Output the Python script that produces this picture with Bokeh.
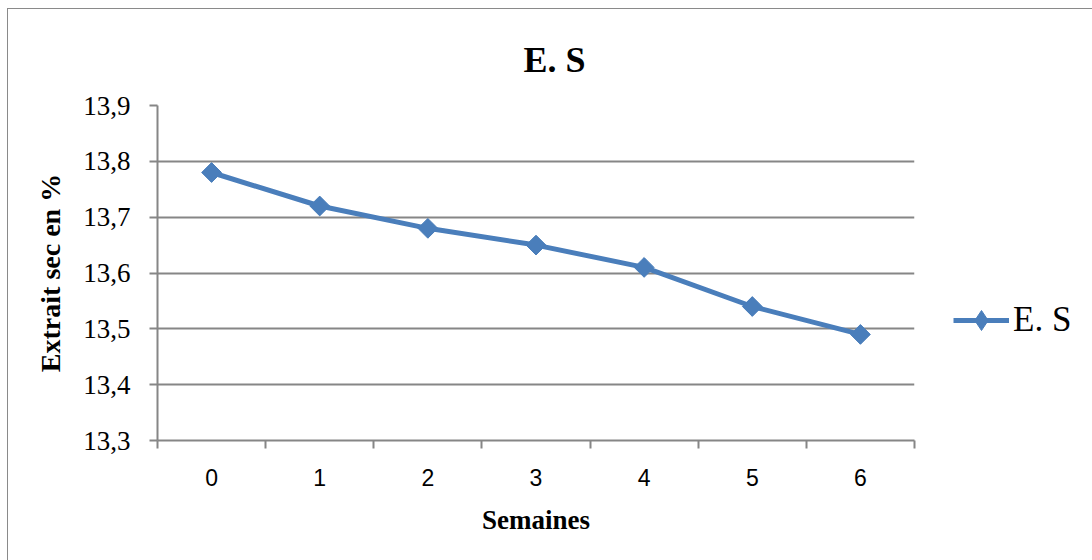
import math
from bokeh.plotting import figure
from bokeh.models import (FixedTicker, CustomJSTickFormatter, Legend, LegendItem,
                          ColumnDataSource, LinearAxis, Grid, Title)
from bokeh.embed import file_html
from bokeh.resources import INLINE

# ---- data ----
semaines = [0, 1, 2, 3, 4, 5, 6]
extrait_sec = [13.78, 13.72, 13.68, 13.65, 13.61, 13.54, 13.49]
y_ticks = [13.3, 13.4, 13.5, 13.6, 13.7, 13.8, 13.9]
x_tick_labels = ["0", "1", "2", "3", "4", "5", "6"]
series_name = "E. S"
title_text = "E. S"
x_title = "Semaines"
y_title = "Extrait sec en %"

BLUE = "#4a7ebb"
GRAY = "#868686"

p = figure(frame_width=757, frame_height=335, output_backend="svg", toolbar_location=None,
           x_range=(-0.5, 6.5), y_range=(13.3, 13.9),
           min_border_left=149, min_border_right=173, min_border_top=96, min_border_bottom=120,
           x_axis_type=None, y_axis_type=None)
p.styles = {"margin-left": "7px", "margin-top": "8px", "border": "1px solid #8a8a8a"}
p.outline_line_color = None
p.background_fill_color = "white"
p.border_fill_color = "white"

p.title = Title(text=title_text, align="left", offset=366, standoff=52,
                text_font="Liberation Serif", text_font_size="36px",
                text_font_style="bold", text_color="black")

# x axis: labels at integer weeks, tick marks between categories
xa = LinearAxis(ticker=FixedTicker(ticks=semaines,
                                   minor_ticks=[s - 0.5 for s in semaines] + [semaines[-1] + 0.5]))
xa.major_label_overrides = {s: lab for s, lab in zip(semaines, x_tick_labels)}
xa.major_tick_out = 0
xa.major_tick_in = 0
xa.minor_tick_out = 8
xa.minor_tick_in = 0
xa.minor_tick_line_color = GRAY
xa.minor_tick_line_width = 2
xa.axis_line_color = GRAY
xa.axis_line_width = 2
xa.major_label_text_font = "Liberation Sans"
xa.major_label_text_font_size = "23px"
xa.major_label_text_color = "black"
xa.major_label_standoff = 20
xa.axis_label = x_title
xa.axis_label_text_font = "Liberation Serif"
xa.axis_label_text_font_size = "27px"
xa.axis_label_text_font_style = "bold"
xa.axis_label_text_color = "black"
xa.axis_label_standoff = 16
p.add_layout(xa, "below")

ya = LinearAxis(ticker=FixedTicker(ticks=y_ticks, minor_ticks=[]))
ya.formatter = CustomJSTickFormatter(code="return tick.toFixed(1).replace('.', ',');")
ya.major_tick_out = 8
ya.major_tick_in = 0
ya.major_tick_line_color = GRAY
ya.major_tick_line_width = 2
ya.axis_line_color = GRAY
ya.axis_line_width = 2
ya.major_label_text_font = "Liberation Serif"
ya.major_label_text_font_size = "27px"
ya.major_label_text_color = "black"
ya.major_label_standoff = 19
ya.axis_label = y_title
ya.axis_label_text_font = "Liberation Serif"
ya.axis_label_text_font_size = "28px"
ya.axis_label_text_font_style = "bold"
ya.axis_label_text_color = "black"
ya.axis_label_standoff = 14
p.add_layout(ya, "left")

p.add_layout(Grid(dimension=1, ticker=ya.ticker, grid_line_color=GRAY, grid_line_width=2))

src = ColumnDataSource(dict(x=semaines, y=extrait_sec))
ln = p.line("x", "y", source=src, line_color=BLUE, line_width=5)
# diamond used for the legend glyph (legend markers are drawn unrotated); hidden under the squares
mk_leg = p.scatter("x", "y", source=src, marker="diamond", size=18,
                   fill_color=BLUE, line_color=BLUE)
mk = p.scatter("x", "y", source=src, marker="square", size=14, angle=math.pi / 4,
               fill_color=BLUE, line_color=BLUE)

legend = Legend(items=[LegendItem(label=series_name, renderers=[ln, mk_leg])],
                location=(39, 95), padding=0, margin=0, border_line_color=None,
                background_fill_alpha=0, label_text_font="Liberation Serif",
                label_text_font_size="35px", glyph_width=56, glyph_height=50,
                label_standoff=4, label_text_color="black")
p.add_layout(legend, "right")

open("out.html", "w").write(file_html(p, INLINE))
